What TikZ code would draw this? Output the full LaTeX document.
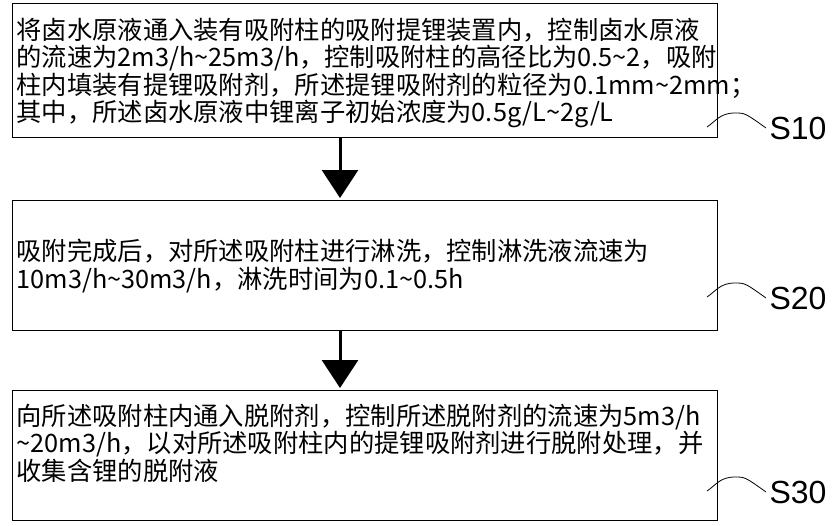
\documentclass[tikz,border=0pt]{standalone}
\usepackage{fontspec}
\setmainfont{Noto Sans CJK SC}
\setsansfont{Liberation Sans}
\usetikzlibrary{arrows.meta}
\tikzset{
  stepbox/.style={draw, line width=1.2pt, anchor=north west, minimum width=705pt, align=left, inner sep=0pt},
  steptext/.style={anchor=west, align=left, font=\fontsize{25.3pt}{27.5pt}\selectfont},
  flow/.style={-{Triangle[width=36pt,length=28pt]}, line width=3pt},
  tag/.style={font=\sffamily\fontsize{32pt}{32pt}\selectfont, anchor=west}
}
\begin{document}
\begin{tikzpicture}[x=1pt, y=-1pt]
  \useasboundingbox (0,0) rectangle (840,525);
  % boxes
  \node[stepbox, minimum height=134pt] (b1) at (12,3) {};
  \node[stepbox, minimum height=130pt] (b2) at (12,200) {};
  \node[stepbox, minimum height=130pt] (b3) at (12,390) {};
  % texts
  \node[steptext] (t1) at (13,73) {将卤水原液通入装有吸附柱的吸附提锂装置内，控制卤水原液\\的流速为2m3/h\textasciitilde25m3/h，控制吸附柱的高径比为0.5\textasciitilde2，吸附\\柱内填装有提锂吸附剂，所述提锂吸附剂的粒径为0.1mm\textasciitilde2mm；\\其中，所述卤水原液中锂离子初始浓度为0.5g/L\textasciitilde2g/L};
  \node[steptext] (t2) at (13,266) {吸附完成后，对所述吸附柱进行淋洗，控制淋洗液流速为\\10m3/h\textasciitilde30m3/h，淋洗时间为0.1\textasciitilde0.5h};
  \node[steptext] (t3) at (13,443) {向所述吸附柱内通入脱附剂，控制所述脱附剂的流速为5m3/h\\\textasciitilde20m3/h，以对所述吸附柱内的提锂吸附剂进行脱附处理，并\\收集含锂的脱附液};
  % arrows
  \coordinate (a1) at (340,137);
  \coordinate (a2) at (340,330);
  \draw[flow] (a1) -- (340,198);
  \draw[flow] (a2) -- (340,388);
  % labels
  \node[tag] (s1) at (766,128) {S10};
  \node[tag] (s2) at (766,298) {S20};
  \node[tag] (s3) at (766,492) {S30};
  \foreach \y/\s in {127/s1, 297/s2, 491/s3}
    \draw[line width=0.8pt] (707,\y) .. controls (716,\y-6) and (720,\y-14) .. (735,\y-14) .. controls (745,\y-14) .. (\s.west);
\end{tikzpicture}
\end{document}
